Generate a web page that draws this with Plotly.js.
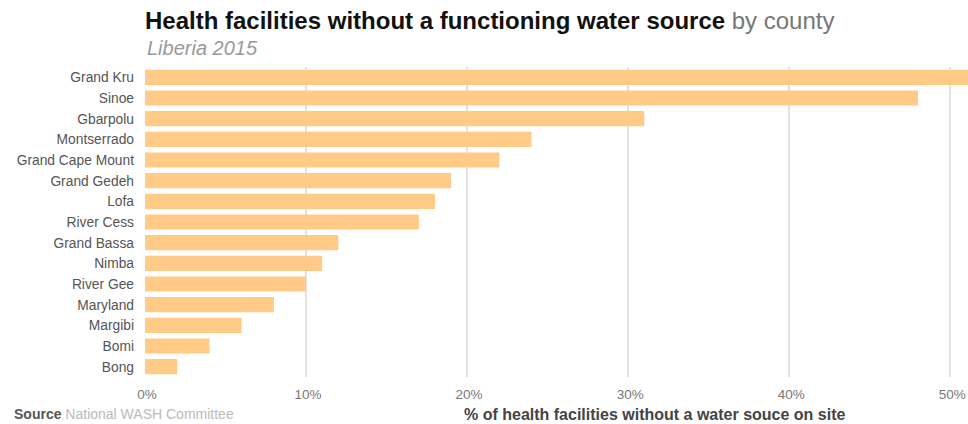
<!DOCTYPE html>
<html>
<head>
<meta charset="utf-8">
<script src="https://cdn.plot.ly/plotly-3.0.1.min.js"></script>
<style>
  html, body { margin: 0; padding: 0; background: #fff; }
  #chart { width: 968px; height: 424px; }
</style>
</head>
<body>
<div id="chart"></div>
<script>
// Counties, top to bottom
const counties = [
  "Grand Kru", "Sinoe", "Gbarpolu", "Montserrado", "Grand Cape Mount",
  "Grand Gedeh", "Lofa", "River Cess", "Grand Bassa", "Nimba",
  "River Gee", "Maryland", "Margibi", "Bomi", "Bong"
];
// Share of health facilities without a functioning water source (%)
const sharePct = [52, 48, 31, 24, 22, 19, 18, 17, 12, 11, 10, 8, 6, 4, 2];

const xTicks = [0, 10, 20, 30, 40, 50];
const xTickText = ["0%", "10%", "20%", "30%", "40%", "50%"];

const font = "Liberation Sans, Arial, Helvetica, sans-serif";

// plot area: 145..968 px across, 67..377 px down
const plotTop = 67, plotBottom = 377, plotLeft = 145, plotW = 968 - 145;
const py = (px) => (plotBottom - px) / (plotBottom - plotTop);
const pxX = (px) => (px - plotLeft) / plotW;

const trace = {
  type: "bar",
  orientation: "h",
  y: counties,
  x: sharePct,
  marker: { color: "#FFCB86" },
  hoverinfo: "y+x"
};

const layout = {
  width: 968,
  height: 424,
  margin: { l: plotLeft, r: 0, t: plotTop, b: 424 - plotBottom },
  paper_bgcolor: "#fff",
  plot_bgcolor: "#fff",
  bargap: 0.27,
  showlegend: false,
  font: { family: font, color: "#555" },
  title: {
    text: "<b>Health facilities without a functioning water source</b> <span style='color:#777'>by county</span>",
    font: { family: font, size: 24, color: "#111" },
    xref: "container", yref: "container",
    x: 145 / 968, xanchor: "left",
    y: 1 - 21 / 424, yanchor: "middle"
  },
  xaxis: {
    range: [0, 51.1],
    tickvals: xTicks,
    ticktext: xTickText,
    showgrid: true,
    gridcolor: "#e2e2e2",
    gridwidth: 2,
    zeroline: false,
    showline: false,
    ticks: "",
    ticklabelstandoff: 7,
    ticklabelshift: 2,
    tickfont: { family: font, size: 13.5, color: "#777" },
    fixedrange: true
  },
  yaxis: {
    categoryorder: "array",
    categoryarray: counties,
    autorange: "reversed",
    showgrid: false,
    zeroline: false,
    showline: false,
    ticks: "",
    ticklabelstandoff: 10,
    tickfont: { family: font, size: 13.8, color: "#555" },
    fixedrange: true
  },
  annotations: [
    {
      text: "<i>Liberia 2015</i>",
      xref: "paper", yref: "paper",
      x: 0, xanchor: "left",
      y: py(48), yanchor: "middle",
      showarrow: false,
      font: { family: font, size: 20, color: "#999" }
    },
    {
      text: "<b>% of health facilities without a water souce on site</b>",
      xref: "paper", yref: "paper",
      x: pxX(655), xanchor: "center",
      y: py(414), yanchor: "middle",
      showarrow: false,
      font: { family: font, size: 16, color: "#444" }
    },
    {
      text: "<b>Source</b> <span style='color:#bbb'>National WASH Committee</span>",
      xref: "paper", yref: "paper",
      x: pxX(12), xanchor: "left",
      y: py(414), yanchor: "middle",
      showarrow: false,
      font: { family: font, size: 14, color: "#555" }
    }
  ]
};

Plotly.newPlot("chart", [trace], layout, { displayModeBar: false, staticPlot: true });
</script>
</body>
</html>
